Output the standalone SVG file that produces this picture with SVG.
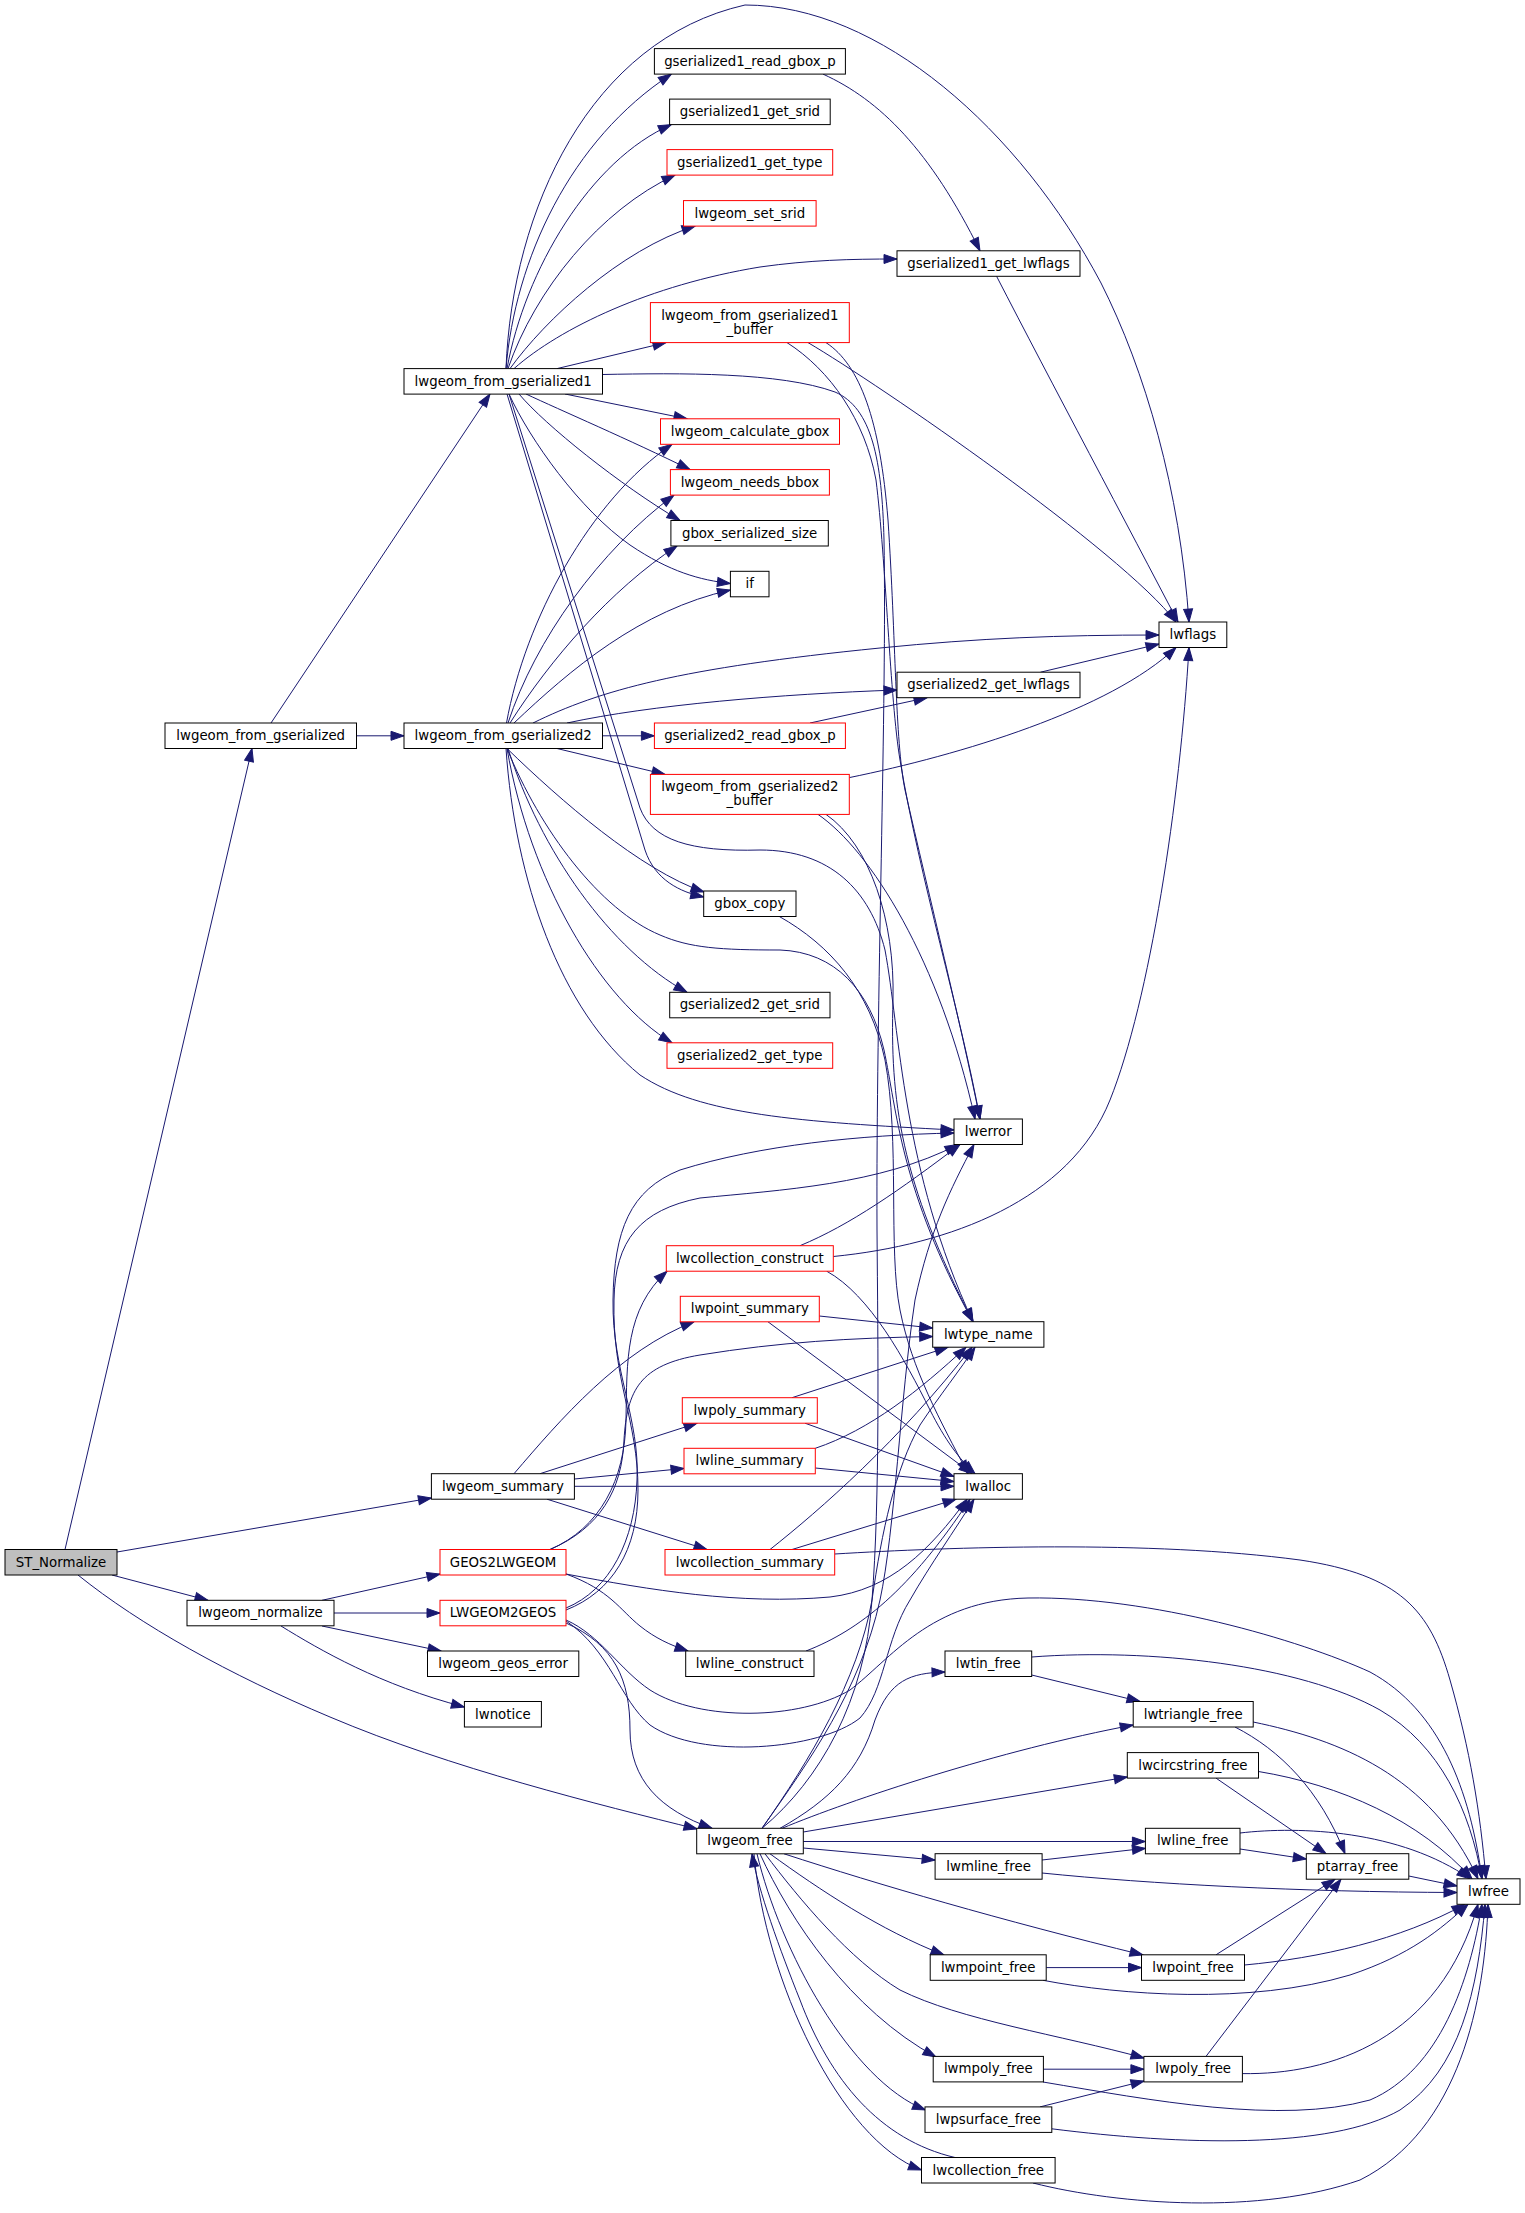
<svg xmlns="http://www.w3.org/2000/svg" width="1525" height="2213" viewBox="0 0 1525 2213">
<defs>
<style>
.n rect{fill:#fff;stroke:#000;stroke-width:1}
.r rect{fill:#fff;stroke:#f00;stroke-width:1}
.g rect{fill:#bfbfbf;stroke:#000;stroke-width:1}
text{font-family:"DejaVu Sans",Verdana,sans-serif;font-size:13.33px;text-anchor:middle;fill:#000}
#edges path{fill:none;stroke:#191970;stroke-width:1;marker-end:url(#a)}
#edges path.x{marker-end:none}
</style>
<marker id="a" markerUnits="userSpaceOnUse" markerWidth="15" markerHeight="11" refX="13" refY="4.5" orient="auto" overflow="visible"><path d="M0,0 L13,4.5 L0,9 z" fill="#191970" stroke="#191970" stroke-width="1"/></marker>
</defs>
<rect x="0" y="0" width="1525" height="2213" fill="#fff"/>
<g id="edges">
<path d="M65,1549.5 L252,748.5"/>
<path d="M117,1552 L431.4,1498"/>
<path d="M112,1575 L208,1600.3"/>
<path d="M78,1575 C140,1625 230,1675 330,1717 C450,1768 600,1805 697,1829"/>
<path d="M271,723 L490,394"/>
<path d="M356.5,735.8 L404,735.8"/>
<path d="M506,368.6 C512,210 590,40 745,5 C880,5 1020,130 1101,283 C1145,370 1180,490 1189,622"/>
<path d="M506,368.6 C515,260 570,140 671.4,74.1"/>
<path d="M507,368.6 C525,270 590,160 671.4,124.6"/>
<path d="M508,368.6 C535,290 600,210 675,175.1"/>
<path d="M510,368.6 C545,320 620,250 695,226.1"/>
<path d="M514,368.6 C560,328 650,285 760,267 C810,260 850,259 897,259"/>
<path d="M557,368.6 L666,342.6"/>
<path class="x" d="M602.5,374.5 C680,373 780,372 835,392 C872,408 882,460 884,540 C887,700 876,1000 877,1230 C878,1350 880,1500 872,1600 C865,1700 820,1780 762,1828.3"/>
<path d="M565,394 L687,418.8"/>
<path d="M526,394 C560,410 630,440 690,469.6"/>
<path d="M519,394 C545,425 620,485 680,520.5"/>
<path d="M509,394 C530,440 580,510 630,545 C670,572 700,580 730.4,583.5"/>
<path d="M507,394 L645,850 C655,880 680,892 703.7,897"/>
<path d="M509,394 L640,808 C652,840 690,852 760,850 C830,850 870,890 885,950 C900,1030 902,1170 973,1321.7"/>
<path d="M507,748.5 C540,830 600,910 660,935 C690,948 720,950 780,950 C835,952 870,990 884,1050 C897,1110 900,1190 973,1321.7"/>
<path d="M506,748.5 C515,880 560,1010 640,1075 C700,1115 800,1122 954,1130"/>
<path d="M508,748.5 C540,850 610,950 687,992.3"/>
<path d="M507,748.5 C530,880 600,1000 672,1042.8"/>
<path d="M507,748.5 C560,800 640,870 704,892"/>
<path d="M506.5,723 C525,620 590,500 672,444.3"/>
<path d="M508,723 C535,640 600,550 674,495.1"/>
<path d="M510,723 C550,660 610,590 677,546"/>
<path d="M514,723 C570,670 640,610 730.4,590"/>
<path d="M533,723 C600,690 680,668 880,648 C980,638 1060,635 1159,635"/>
<path d="M567,723 C650,705 780,694 897,690"/>
<path d="M602.5,735.8 L654.4,735.8"/>
<path d="M557,748.5 L665,774.4"/>
<path d="M808,342.6 C880,385 1120,550 1176,622"/>
<path d="M826,342.6 C860,365 880,420 888,520 C896,640 895,740 905,790 C930,900 960,1020 980,1119"/>
<path d="M787,342.6 C830,370 865,420 876,480 C886,560 890,700 900,760 C920,880 960,1010 980,1119"/>
<path d="M823,74.1 C880,100 930,150 980,250.8"/>
<path d="M996.6,276.3 C1050,380 1130,530 1178,622"/>
<path d="M810,723 L927,697.7"/>
<path d="M1040.5,672.2 L1159,644"/>
<path d="M849.3,777.6 C960,755 1110,710 1176,647.5"/>
<path d="M818,814.4 C870,850 940,960 975,1119"/>
<path d="M826,814.4 C870,845 895,920 893,1000 C890,1100 900,1180 973,1321.7"/>
<path d="M779,916.3 C830,945 870,990 885,1060 C900,1140 888,1250 900,1310 C912,1370 940,1420 968,1473.7"/>
<path d="M514,1473.7 C560,1420 620,1350 694,1321.8"/>
<path d="M540,1473.7 L697,1423.2"/>
<path d="M574.4,1479 L684,1468.5"/>
<path d="M574.4,1486.3 L954,1486.3"/>
<path d="M547,1499.2 L707,1549.5"/>
<path d="M550,1549.5 C600,1528 625,1480 626,1420 C627,1360 625,1310 667,1271.2"/>
<path d="M550,1549.5 C600,1528 622,1490 624,1440 C627,1390 640,1365 700,1355 C780,1342 850,1338 932.7,1336.5"/>
<path d="M566,1574 C610,1590 620,1610 640,1626 C655,1638 670,1645 688,1651"/>
<path d="M566,1574 C650,1590 740,1605 830,1597 C890,1590 930,1550 967,1499.2"/>
<path d="M566,1608 C610,1590 635,1540 637,1480 C640,1420 612,1370 613,1300 C614,1230 630,1190 680,1170 C760,1145 860,1135 954,1133"/>
<path d="M566,1610 C612,1592 638,1550 638,1490 C638,1420 612,1380 614,1300 C615,1240 640,1210 700,1198 C780,1190 880,1185 958,1144.5"/>
<path d="M566,1620 C600,1635 620,1670 650,1690 C700,1722 800,1720 850,1690 C890,1660 930,1600 1028,1598 C1150,1596 1300,1640 1370,1672 C1440,1710 1470,1790 1482,1878.8"/>
<path d="M566,1621 C610,1650 620,1700 650,1725 C700,1760 820,1750 860,1718 C885,1690 885,1640 910,1600 C930,1565 955,1530 974,1499.2"/>
<path d="M566,1623 C615,1645 630,1680 630,1730 C630,1780 660,1810 712,1828.3"/>
<path d="M322,1600.3 L440,1574"/>
<path d="M334,1613 L440,1613"/>
<path d="M322,1626 L441,1651"/>
<path d="M281,1626 C320,1650 380,1685 464.4,1707"/>
<path d="M800,1245.7 C850,1225 900,1190 960,1144.5"/>
<path d="M833.3,1256.5 C950,1245 1070,1200 1110,1100 C1150,1000 1180,800 1189,647.5"/>
<path d="M826.7,1271.2 C870,1295 905,1360 930,1410 C945,1440 960,1460 975,1473.7"/>
<path d="M819.3,1316 L932.7,1328"/>
<path d="M768,1321.8 L972,1473.7"/>
<path d="M792,1397.7 L948,1347.2"/>
<path d="M805,1423.2 L954,1476.5"/>
<path d="M815.3,1448.3 C870,1430 920,1390 966,1347.2"/>
<path d="M815.3,1468 L954,1481.5"/>
<path d="M770,1549.5 C820,1510 900,1440 972,1347.2"/>
<path d="M792,1549.5 L956,1499.2"/>
<path d="M834.7,1554 C950,1547 1150,1540 1300,1560 C1400,1575 1430,1610 1450,1680 C1470,1750 1480,1810 1486,1878.8"/>
<path d="M806,1651 C860,1630 910,1590 970,1499.2"/>
<path d="M762,1828.3 C810,1760 860,1690 880,1600 C895,1530 900,1400 915,1300 C930,1230 950,1190 974,1144.5"/>
<path d="M762,1828.3 C810,1760 858,1680 872,1600 C882,1530 895,1470 920,1425 C940,1395 960,1370 975,1347.2"/>
<path d="M780,1828.3 C830,1800 860,1770 875,1720 C890,1680 910,1673 945,1672"/>
<path d="M782,1828.3 C850,1800 1000,1750 1133.2,1725"/>
<path d="M803.3,1832 L1127.3,1777"/>
<path d="M803.3,1841.5 L1145.4,1841.5"/>
<path d="M803.3,1848 L935.1,1860"/>
<path d="M784,1853.8 C880,1885 1000,1920 1143,1955"/>
<path d="M770,1853.8 C820,1890 880,1930 944,1955"/>
<path d="M765,1853.8 C800,1900 850,1960 900,1990 C960,2020 1060,2035 1144,2058"/>
<path d="M760,1853.8 C790,1920 850,2010 936,2057"/>
<path d="M757,1853.8 C780,1950 850,2080 925.5,2110"/>
<path d="M754,1853.8 C765,1980 840,2140 921.5,2170"/>
<path d="M955,2157.5 C880,2140 830,2080 800,2000 C780,1950 758,1890 752,1853.8"/>
<path d="M1031.7,1675 L1140,1701.5"/>
<path d="M1031.7,1657 C1150,1648 1300,1665 1380,1710 C1440,1745 1470,1810 1482,1878.8"/>
<path d="M1253.2,1722 C1340,1740 1430,1775 1478,1878.8"/>
<path d="M1235,1727 C1280,1750 1320,1790 1345,1853.7"/>
<path d="M1258.5,1771.5 C1340,1785 1420,1820 1472,1878.8"/>
<path d="M1216,1778.1 L1326,1853.7"/>
<path d="M1240,1849 L1306.3,1859"/>
<path d="M1240,1833 C1300,1826 1400,1830 1470,1878.8"/>
<path d="M1042,1860 L1145.4,1848.3"/>
<path d="M1042,1873 C1150,1884 1300,1892 1457,1892.5"/>
<path d="M1408.8,1876 L1457,1886"/>
<path d="M1046.2,1967.6 L1141.5,1967.6"/>
<path d="M1043,1980.3 C1120,1995 1250,2005 1350,1975 C1410,1955 1440,1930 1468,1904.3"/>
<path d="M1216,1954.8 L1335,1879.2"/>
<path d="M1244.5,1965 C1320,1958 1400,1940 1465,1904.3"/>
<path d="M1043.4,2069.2 L1143.9,2069.2"/>
<path d="M1043,2082 C1150,2100 1280,2125 1370,2100 C1440,2070 1470,1980 1482,1904.3"/>
<path d="M1206,2056.4 L1341,1879.2"/>
<path d="M1242.4,2073.6 C1330,2075 1440,2040 1478,1904.3"/>
<path d="M1040,2106.9 L1144,2081"/>
<path d="M1051.8,2128.8 C1180,2145 1330,2150 1400,2110 C1460,2070 1478,1990 1485,1904.3"/>
<path d="M1033,2183 C1120,2205 1260,2215 1360,2180 C1460,2130 1485,2000 1488,1904.3"/>
</g>
<g id="nodes">
<g id="ST_Normalize" class="g"><rect x="5" y="1549.5" width="112" height="25.5"/><text x="61" y="1566.5">ST_Normalize</text></g>
<g id="lwgeom_from_gserialized" class="n"><rect x="165" y="723" width="191.5" height="25.5"/><text x="260.7" y="740">lwgeom_from_gserialized</text></g>
<g id="lwgeom_normalize" class="n"><rect x="187" y="1600.3" width="147" height="25.5"/><text x="260.5" y="1617.3">lwgeom_normalize</text></g>
<g id="lwgeom_from_gserialized1" class="n"><rect x="404" y="368.6" width="198.5" height="25.5"/><text x="503.2" y="385.6">lwgeom_from_gserialized1</text></g>
<g id="lwgeom_from_gserialized2" class="n"><rect x="404" y="723" width="198.5" height="25.5"/><text x="503.2" y="740">lwgeom_from_gserialized2</text></g>
<g id="lwgeom_summary" class="n"><rect x="431.4" y="1473.7" width="143" height="25.5"/><text x="502.9" y="1490.7">lwgeom_summary</text></g>
<g id="GEOS2LWGEOM" class="r"><rect x="440" y="1549.5" width="126" height="25.5"/><text x="503" y="1566.5">GEOS2LWGEOM</text></g>
<g id="LWGEOM2GEOS" class="r"><rect x="440" y="1600.3" width="126" height="25.5"/><text x="503" y="1617.3">LWGEOM2GEOS</text></g>
<g id="lwgeom_geos_error" class="n"><rect x="427.5" y="1651" width="151.3" height="25.5"/><text x="503.1" y="1668">lwgeom_geos_error</text></g>
<g id="lwnotice" class="n"><rect x="464.4" y="1701.5" width="77" height="25.5"/><text x="502.9" y="1718.5">lwnotice</text></g>
<g id="gserialized1_read_gbox_p" class="n"><rect x="654.4" y="48.6" width="191" height="25.5"/><text x="749.9" y="65.6">gserialized1_read_gbox_p</text></g>
<g id="gserialized1_get_srid" class="n"><rect x="669.6" y="99.1" width="160.6" height="25.5"/><text x="749.9" y="116.1">gserialized1_get_srid</text></g>
<g id="gserialized1_get_type" class="r"><rect x="667" y="149.6" width="165.7" height="25.5"/><text x="749.8" y="166.6">gserialized1_get_type</text></g>
<g id="lwgeom_set_srid" class="r"><rect x="683.5" y="200.6" width="132.6" height="25.5"/><text x="749.8" y="217.6">lwgeom_set_srid</text></g>
<g id="lwgeom_from_gserialized1_buffer" class="r"><rect x="650.4" y="302.6" width="198.9" height="40"/><text x="749.8" y="319.5">lwgeom_from_gserialized1</text><text x="749.8" y="333.5">_buffer</text></g>
<g id="lwgeom_calculate_gbox" class="r"><rect x="660.5" y="418.8" width="179" height="25.5"/><text x="750" y="435.8">lwgeom_calculate_gbox</text></g>
<g id="lwgeom_needs_bbox" class="r"><rect x="670.4" y="469.6" width="159" height="25.5"/><text x="749.9" y="486.6">lwgeom_needs_bbox</text></g>
<g id="gbox_serialized_size" class="n"><rect x="670.9" y="520.5" width="157.4" height="25.5"/><text x="749.6" y="537.5">gbox_serialized_size</text></g>
<g id="if" class="n"><rect x="730.4" y="571.3" width="38.6" height="25.5"/><text x="749.7" y="588.3">if</text></g>
<g id="gserialized2_read_gbox_p" class="r"><rect x="654.4" y="723" width="191" height="25.5"/><text x="749.9" y="740">gserialized2_read_gbox_p</text></g>
<g id="lwgeom_from_gserialized2_buffer" class="r"><rect x="650.4" y="774.4" width="198.9" height="40"/><text x="749.8" y="791.3">lwgeom_from_gserialized2</text><text x="749.8" y="805.3">_buffer</text></g>
<g id="gbox_copy" class="n"><rect x="703.7" y="891" width="92.3" height="25.5"/><text x="749.8" y="908">gbox_copy</text></g>
<g id="gserialized2_get_srid" class="n"><rect x="669.7" y="992.3" width="160.3" height="25.5"/><text x="749.8" y="1009.3">gserialized2_get_srid</text></g>
<g id="gserialized2_get_type" class="r"><rect x="667" y="1042.8" width="165.7" height="25.5"/><text x="749.8" y="1059.8">gserialized2_get_type</text></g>
<g id="lwcollection_construct" class="r"><rect x="666.3" y="1245.7" width="167" height="25.5"/><text x="749.8" y="1262.7">lwcollection_construct</text></g>
<g id="lwpoint_summary" class="r"><rect x="680.3" y="1296.3" width="139" height="25.5"/><text x="749.8" y="1313.3">lwpoint_summary</text></g>
<g id="lwpoly_summary" class="r"><rect x="682.3" y="1397.7" width="135" height="25.5"/><text x="749.8" y="1414.7">lwpoly_summary</text></g>
<g id="lwline_summary" class="r"><rect x="684" y="1448.3" width="131.3" height="25.5"/><text x="749.6" y="1465.3">lwline_summary</text></g>
<g id="lwcollection_summary" class="r"><rect x="665" y="1549.5" width="169.7" height="25.5"/><text x="749.8" y="1566.5">lwcollection_summary</text></g>
<g id="lwline_construct" class="n"><rect x="685.7" y="1651" width="128.3" height="25.5"/><text x="749.8" y="1668">lwline_construct</text></g>
<g id="lwgeom_free" class="n"><rect x="696.7" y="1828.3" width="106.6" height="25.5"/><text x="750" y="1845.3">lwgeom_free</text></g>
<g id="gserialized1_get_lwflags" class="n"><rect x="897" y="250.8" width="183" height="25.5"/><text x="988.5" y="267.8">gserialized1_get_lwflags</text></g>
<g id="gserialized2_get_lwflags" class="n"><rect x="897" y="672.2" width="183" height="25.5"/><text x="988.5" y="689.2">gserialized2_get_lwflags</text></g>
<g id="lwerror" class="n"><rect x="954" y="1119" width="68.4" height="25.5"/><text x="988.2" y="1136">lwerror</text></g>
<g id="lwtype_name" class="n"><rect x="932.7" y="1321.7" width="111.2" height="25.5"/><text x="988.3" y="1338.7">lwtype_name</text></g>
<g id="lwalloc" class="n"><rect x="954" y="1473.7" width="68.4" height="25.5"/><text x="988.2" y="1490.7">lwalloc</text></g>
<g id="lwtin_free" class="n"><rect x="945" y="1651" width="86.7" height="25.5"/><text x="988.3" y="1668">lwtin_free</text></g>
<g id="lwmline_free" class="n"><rect x="935.1" y="1853.7" width="107" height="25.5"/><text x="988.6" y="1870.7">lwmline_free</text></g>
<g id="lwmpoint_free" class="n"><rect x="930.2" y="1954.8" width="116" height="25.5"/><text x="988.2" y="1971.8">lwmpoint_free</text></g>
<g id="lwmpoly_free" class="n"><rect x="933.2" y="2056.4" width="110.2" height="25.5"/><text x="988.3" y="2073.4">lwmpoly_free</text></g>
<g id="lwpsurface_free" class="n"><rect x="925" y="2106.9" width="126.8" height="25.5"/><text x="988.4" y="2123.9">lwpsurface_free</text></g>
<g id="lwcollection_free" class="n"><rect x="921.5" y="2157.5" width="133.6" height="25.5"/><text x="988.3" y="2174.5">lwcollection_free</text></g>
<g id="lwflags" class="n"><rect x="1159" y="622" width="67.8" height="25.5"/><text x="1192.9" y="639">lwflags</text></g>
<g id="lwtriangle_free" class="n"><rect x="1133.2" y="1701.5" width="120" height="25.5"/><text x="1193.2" y="1718.5">lwtriangle_free</text></g>
<g id="lwcircstring_free" class="n"><rect x="1127.3" y="1752.6" width="131.2" height="25.5"/><text x="1192.9" y="1769.6">lwcircstring_free</text></g>
<g id="lwline_free" class="n"><rect x="1145.4" y="1828.3" width="94.6" height="25.5"/><text x="1192.7" y="1845.3">lwline_free</text></g>
<g id="lwpoint_free" class="n"><rect x="1141.5" y="1954.8" width="103" height="25.5"/><text x="1193" y="1971.8">lwpoint_free</text></g>
<g id="lwpoly_free" class="n"><rect x="1143.9" y="2056.4" width="98.5" height="25.5"/><text x="1193.2" y="2073.4">lwpoly_free</text></g>
<g id="ptarray_free" class="n"><rect x="1306.3" y="1853.7" width="102.5" height="25.5"/><text x="1357.5" y="1870.7">ptarray_free</text></g>
<g id="lwfree" class="n"><rect x="1457" y="1878.8" width="63" height="25.5"/><text x="1488.5" y="1895.8">lwfree</text></g>
</g>
</svg>
